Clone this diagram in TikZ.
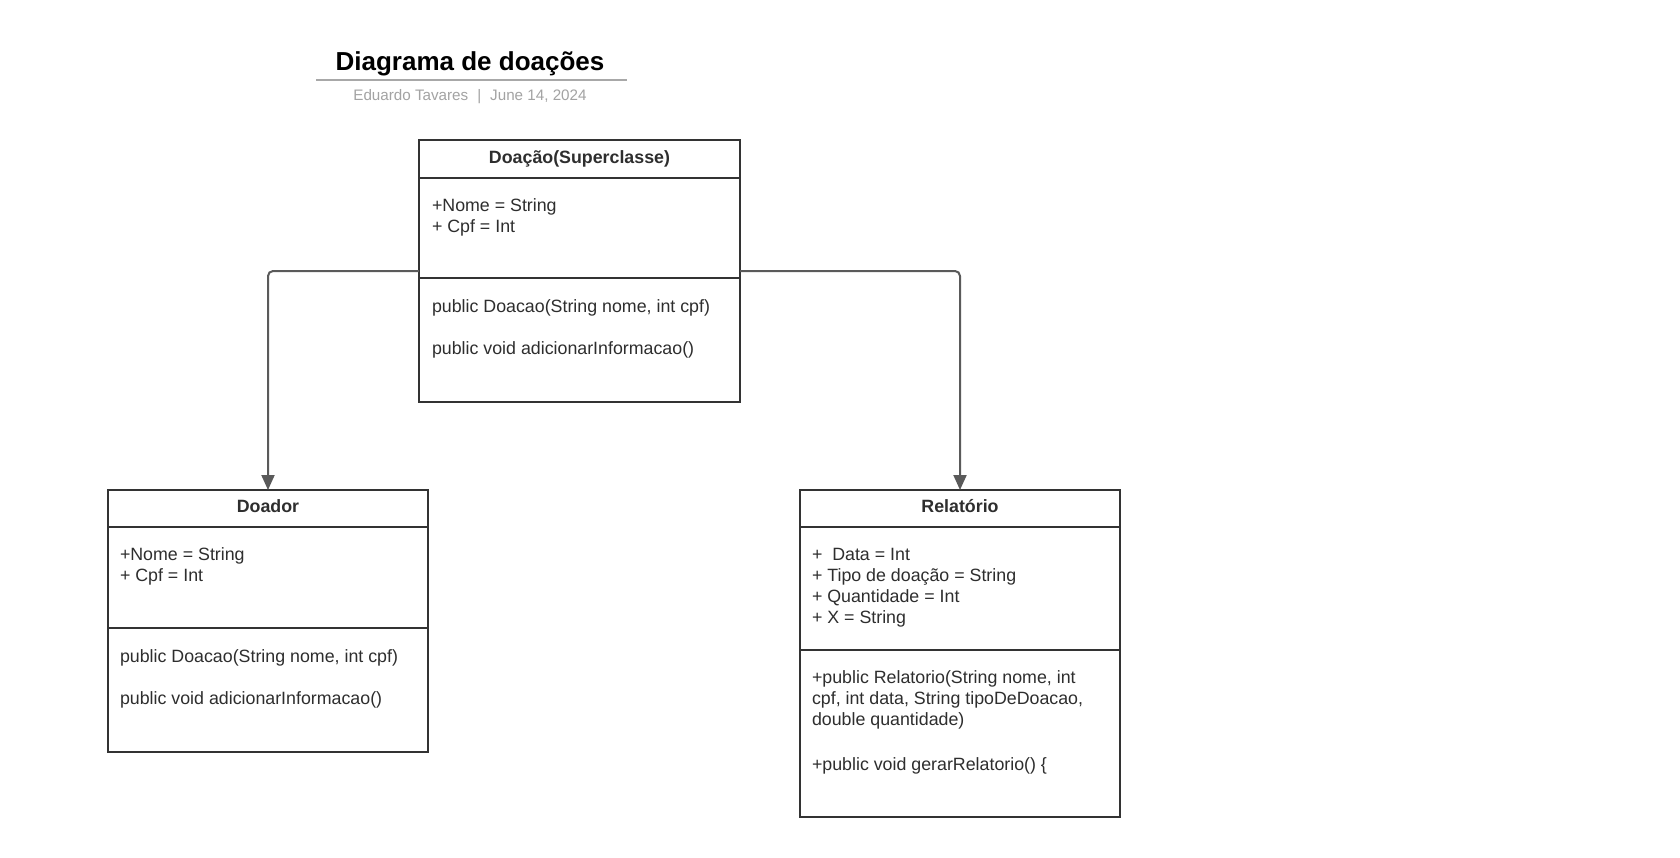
\documentclass[tikz,border=0pt]{standalone}
\usepackage{fontspec}
\setmainfont{Liberation Sans}
\usetikzlibrary{arrows.meta}
\definecolor{ink}{HTML}{2E2E2E}
\definecolor{frame}{HTML}{333333}
\definecolor{connc}{HTML}{5A5A5A}
\definecolor{subgray}{HTML}{A3A3A3}
\definecolor{rulegray}{HTML}{A8A8A8}
\tikzset{
  box/.style={draw=frame, line width=2pt, fill=white, inner sep=0pt, outer sep=0pt, anchor=north west},
  divider/.style={draw=frame, line width=2pt},
  txt/.style={text=ink, inner sep=0pt, outer sep=0pt, anchor=base west, font=\fontsize{17.8}{21}\selectfont},
  hdr/.style={text=ink, inner sep=0pt, outer sep=0pt, anchor=base, font=\bfseries\fontsize{17.8}{21}\selectfont},
  conn/.style={draw=connc, line width=2pt, rounded corners=5pt, -{Triangle[length=15pt,width=13pt]}},
}
\begin{document}
\begin{tikzpicture}[x=1pt,y=-1pt]
\useasboundingbox[fill=white] (0,0) rectangle (1680,857);

% Title
\node[inner sep=0pt, anchor=base, font=\bfseries\fontsize{26}{30}\selectfont] (title) at (470,70) {Diagrama de doações};
\coordinate (ruleL) at (316,80);
\coordinate (ruleR) at (627,80);
\draw[rulegray, line width=1.6pt] (ruleL) -- (ruleR);
\node[inner sep=0pt, anchor=base, text=subgray, font=\fontsize{15.2}{18}\selectfont] (sub) at (470,100) {Eduardo Tavares\hspace{9pt}|\hspace{9pt}June 14, 2024};

% Superclass box
\node[box, minimum width=321pt, minimum height=262pt] (sup) at (419,140) {};
\draw[divider] ([yshift=-38pt]sup.north west) -- ([yshift=-38pt]sup.north east);
\draw[divider] ([yshift=-138pt]sup.north west) -- ([yshift=-138pt]sup.north east);
\node[hdr] (supT) at (579.5,163) {Doação(Superclasse)};
\node[txt] (supA1) at (432,211) {+Nome = String};
\node[txt] (supA2) at (432,232) {+ Cpf = Int};
\node[txt] (supM1) at (432,312) {public Doacao(String nome, int cpf)};
\node[txt] (supM2) at (432,354) {public void adicionarInformacao()};

% Doador box
\node[box, minimum width=320pt, minimum height=262pt] (doador) at (108,490) {};
\draw[divider] ([yshift=-37pt]doador.north west) -- ([yshift=-37pt]doador.north east);
\draw[divider] ([yshift=-138pt]doador.north west) -- ([yshift=-138pt]doador.north east);
\node[hdr] (doaT) at (268,512) {Doador};
\node[txt] (doaA1) at (120,560) {+Nome = String};
\node[txt] (doaA2) at (120,581) {+ Cpf = Int};
\node[txt] (doaM1) at (120,662) {public Doacao(String nome, int cpf)};
\node[txt] (doaM2) at (120,704) {public void adicionarInformacao()};

% Relatorio box
\node[box, minimum width=320pt, minimum height=327pt] (rel) at (800,490) {};
\draw[divider] ([yshift=-37pt]rel.north west) -- ([yshift=-37pt]rel.north east);
\draw[divider] ([yshift=-160pt]rel.north west) -- ([yshift=-160pt]rel.north east);
\node[hdr] (relT) at (960,512) {Relatório};
\node[txt] (relA1) at (812,560) {+~~Data = Int};
\node[txt] (relA2) at (812,581) {+ Tipo de doação = String};
\node[txt] (relA3) at (812,602) {+ Quantidade = Int};
\node[txt] (relA4) at (812,623) {+ X = String};
\node[txt] (relM1) at (812,683) {+public Relatorio(String nome, int};
\node[txt] (relM2) at (812,704) {cpf, int data, String tipoDeDoacao,};
\node[txt] (relM3) at (812,725) {double quantidade)};
\node[txt] (relM4) at (812,770) {+public void gerarRelatorio() \{};

% Connectors
\coordinate (supL) at (419,271);
\coordinate (supR) at (740,271);
\draw[conn] (supL) -| (doador.north);
\draw[conn] (supR) -| (rel.north);
\end{tikzpicture}
\end{document}
